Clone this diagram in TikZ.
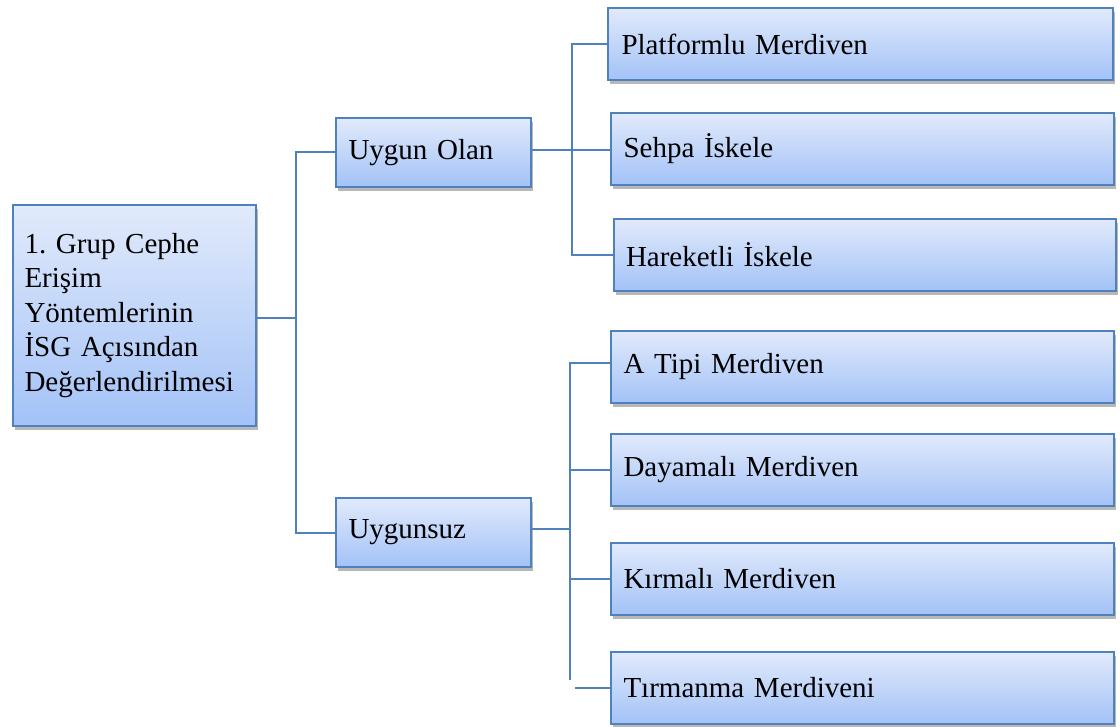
\documentclass[tikz,border=0pt]{standalone}
\usepackage{fontspec}
\setmainfont{Liberation Serif}
\usetikzlibrary{shadows}
\definecolor{boxline}{HTML}{4F81BD}
\definecolor{boxtop}{HTML}{E1EAFB}
\definecolor{boxbot}{HTML}{A3C2F7}
\definecolor{linkcol}{HTML}{4F81BD}
\newcommand{\boxfont}{\fontsize{29}{34.5}\selectfont\frenchspacing}
\tikzset{
  box/.style={draw=boxline, line width=2pt, top color=boxtop, bottom color=boxbot,
    drop shadow={shadow xshift=2pt, shadow yshift=-4pt, opacity=0.28, fill=black},
    font=\boxfont, inner xsep=11pt, inner ysep=0pt,
    anchor=north west},
  leaf/.style={box, minimum width=503pt, minimum height=72pt, text width=478pt},
  mid/.style={box, minimum width=195pt, minimum height=69pt, text width=170pt},
  link/.style={draw=linkcol, line width=2pt}
}
\begin{document}
\begin{tikzpicture}[x=1pt,y=-1pt]
\useasboundingbox (0,0) rectangle (1120,727);

% root
\node[box, minimum width=243pt, minimum height=221pt, text width=220pt] (root) at (12,204)
  {1. Grup Cephe\\Erişim\\Yöntemlerinin\\İSG Açısından\\Değerlendirilmesi};

% second level
\node[mid] (uygun) at (335,117) {Uygun Olan};
\node[mid] (uygunsuz) at (335,497) {Uygunsuz};

% leaves of the first group
\node[leaf, minimum width=505pt] (plat) at (607,7) {Platformlu Merdiven};
\node[leaf] (sehpa) at (610,112) {Sehpa İskele};
\node[leaf, minimum width=502pt] (hare) at (613,218) {Hareketli İskele};

% leaves of the second group
\node[leaf] (atipi) at (610,330) {A Tipi Merdiven};
\node[leaf] (daya) at (610,433) {Dayamalı Merdiven};
\node[leaf] (kirma) at (610,542) {Kırmalı Merdiven};
\node[leaf] (tirm) at (610,651) {Tırmanma Merdiveni};

% bus points
\coordinate (s0) at (296,318);
\coordinate (s1) at (572,150);
\coordinate (s2) at (570,529);
\coordinate (s2end) at (570,680);
\coordinate (tstart) at (575,688);

% root to second level
\draw[link] (root.east |- s0) -- (s0);
\draw[link] (uygun.west) -| (s0);
\draw[link] (uygunsuz.west) -| (s0);

% first group
\draw[link] (uygun.east |- s1) -- (s1);
\draw[link] (plat.west) -| (s1);
\draw[link] (hare.west) -| (s1);
\draw[link] (sehpa.west |- s1) -- (s1);

% second group
\draw[link] (uygunsuz.east |- s2) -- (s2);
\draw[link] ([yshift=4pt]atipi.west) -| (s2end);
\draw[link] (daya.west) -- (daya.west -| s2);
\draw[link] (kirma.west) -- (kirma.west -| s2);
\draw[link] (tstart) -- (tirm.west |- tstart);
\end{tikzpicture}
\end{document}
